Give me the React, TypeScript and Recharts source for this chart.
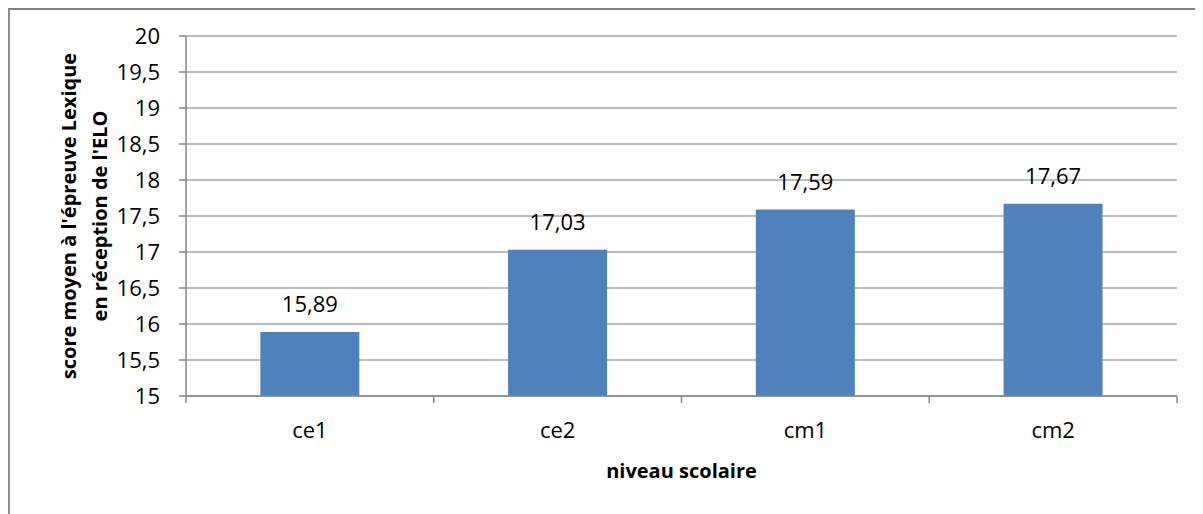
import { BarChart, Bar, XAxis, YAxis, CartesianGrid, LabelList } from 'recharts';

const levels = ['ce1', 'ce2', 'cm1', 'cm2'];
const scores = [15.89, 17.03, 17.59, 17.67];
const yTicks = [15, 15.5, 16, 16.5, 17, 17.5, 18, 18.5, 19, 19.5, 20];

const chartData = levels.map((name, i) => ({ name, score: scores[i] }));

const FONT = "'Open Sans', 'Liberation Sans', sans-serif";
const fmt = (v: number) => String(v).replace('.', ',');

// Excel-style category ticks: marks on the category boundaries, label in the middle
const CategoryTick = (props: any) => {
  const { x, y, payload, index, visibleTicksCount } = props;
  const half = payload.offset ?? 0;
  const isLast = index === visibleTicksCount - 1;
  return (
    <g>
      <line x1={x - half} x2={x - half} y1={y} y2={y + 7} stroke="#868686" strokeWidth={1.5} />
      {isLast && <line x1={x + half} x2={x + half} y1={y} y2={y + 7} stroke="#868686" strokeWidth={1.5} />}
      <text x={x} y={y + 42} textAnchor="middle" fontSize={22} fill="#000" fontFamily={FONT}>
        {payload.value}
      </text>
    </g>
  );
};

const YTitle = (props: any) => {
  const vb = props.viewBox || {};
  const cy = vb.y + vb.height / 2;
  return (
    <g fontFamily={FONT} fontSize={20} fontWeight="bold" fill="#000">
      <text x={66} y={cy} textAnchor="middle" transform={`rotate(-90, 66, ${cy})`}>
        score moyen à l'épreuve Lexique
      </text>
      <text x={97} y={cy} textAnchor="middle" transform={`rotate(-90, 97, ${cy})`}>
        en réception de l'ELO
      </text>
    </g>
  );
};

const XTitle = (props: any) => {
  const vb = props.viewBox || {};
  return (
    <text x={vb.x + vb.width / 2} y={468} textAnchor="middle" fontFamily={FONT} fontSize={20} fontWeight="bold" fill="#000">
      niveau scolaire
    </text>
  );
};

export default function App() {
  return (
    <div style={{ width: 1193, height: 504, borderTop: '2px solid #7f7f7f', borderLeft: '2px solid #8e8e8e' }}>
      <BarChart
        width={1193}
        height={504}
        data={chartData}
        barCategoryGap="30%"
        margin={{ top: 26, right: 26, bottom: 0, left: 0 }}
      >
        <CartesianGrid vertical={false} stroke="#a6a6a6" strokeWidth={1.5} />
        <XAxis
          dataKey="name"
          height={118}
          tickLine={false}
          tickSize={0}
          tickMargin={0}
          axisLine={{ stroke: '#868686', strokeWidth: 1.5 }}
          tick={<CategoryTick />}
          interval={0}
          label={<XTitle />}
        />
        <YAxis
          width={176}
          domain={[15, 20]}
          ticks={yTicks}
          interval={0}
          tickFormatter={fmt}
          tickSize={7}
          tickMargin={19}
          axisLine={{ stroke: '#868686', strokeWidth: 1.5 }}
          tickLine={{ stroke: '#868686', strokeWidth: 1.5 }}
          tick={{ fill: '#000', fontSize: 22, fontFamily: FONT }}
          label={<YTitle />}
        />
        <Bar dataKey="score" fill="#4f81bd" isAnimationActive={false}>
          <LabelList
            dataKey="score"
            position="top"
            offset={20}
            formatter={(v: any) => fmt(v)}
            style={{ fill: '#000', fontSize: 22, fontFamily: FONT }}
          />
        </Bar>
      </BarChart>
    </div>
  );
}
